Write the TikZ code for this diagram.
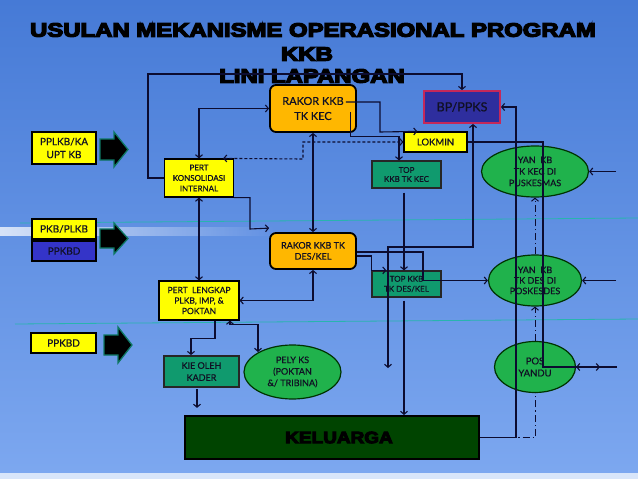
\documentclass[tikz,border=0pt]{standalone}
\usepackage{fontspec}
\usepackage{graphicx}
\setmainfont[FakeBold=0.6]{Lato}
\newfontfamily\titlefont[FakeBold=6]{Liberation Sans Bold}
\usetikzlibrary{arrows.meta,calc,shapes.geometric,fadings}
\definecolor{bgtop}{RGB}{70,122,214}
\definecolor{bgbot}{RGB}{125,168,240}
\definecolor{lc}{RGB}{12,12,48}
\definecolor{yel}{RGB}{255,255,0}
\definecolor{org}{RGB}{255,183,0}
\definecolor{tealb}{RGB}{16,154,110}
\definecolor{grn}{RGB}{32,178,76}
\definecolor{bpfill}{RGB}{46,46,158}
\definecolor{bpedge}{RGB}{196,40,90}
\definecolor{ppblue}{RGB}{52,52,200}
\definecolor{kelgreen}{RGB}{0,68,0}
\definecolor{txt}{RGB}{16,16,36}
\definecolor{arrowedge}{RGB}{14,120,100}
\definecolor{seam}{RGB}{40,180,175}
\tikzset{
  every node/.style={inner sep=0pt, align=center, text=txt},
  ybox/.style={draw=black, line width=1.2pt, fill=yel},
  obox/.style={draw=black, line width=1.8pt, fill=org, rounded corners=6pt},
  tbox/.style={draw=black!85, line width=1.2pt, fill=tealb},
  gell/.style={ellipse, draw=black!80!green, line width=1.2pt, fill=grn},
  conn/.style={draw=lc, line width=1.1pt},
  bigarrow/.style={fill=black, draw=arrowedge, line width=1.3pt, line join=miter},
  dd/.style={line width=1pt, dash pattern=on 7pt off 3pt on 1.2pt off 3pt},
  dsh/.style={dash pattern=on 3pt off 2pt},
  ttl/.style={text=black},
}
\begin{document}
\begin{tikzpicture}[x=1pt,y=-1pt,>={Straight Barb[length=3pt,width=7pt]}]
\useasboundingbox (0,0) rectangle (638,479);
% background
\shade[top color=bgtop, bottom color=bgbot] (0,0) rectangle (638,479);
\fill[white!70!bgbot] (0,473) rectangle (638,479);
\draw[seam, line width=0.8pt] (20,223) -- (638,218);
\draw[seam, line width=0.8pt] (15,324) -- (638,319);
\fill[white, opacity=0.75, path fading=east] (0,227) rectangle (275,236);

% title
\node[ttl] (ttl1) at (313,30) {\titlefont\fontsize{19.5}{20}\selectfont\scalebox{1.226}[1]{USULAN MEKANISME OPERASIONAL PROGRAM}};
\node[ttl] (ttl2) at (307,54) {\titlefont\fontsize{19.5}{20}\selectfont\scalebox{1.226}[1]{KKB}};
\node[ttl] (ttl3) at (312,76) {\titlefont\fontsize{19.5}{20}\selectfont\scalebox{1.226}[1]{LINI LAPANGAN}};

% left labels
\node[ybox, minimum width=64pt, minimum height=32pt, font=\fontsize{10}{13}\selectfont] (pplkb) at (64,148) {PPLKB/KA\\UPT KB};
\node[ybox, minimum width=64pt, minimum height=20pt, font=\fontsize{10}{12}\selectfont] (pkb) at (64,229) {PKB/PLKB};
\node[draw=black, line width=1.2pt, fill=ppblue, minimum width=64pt, minimum height=20pt, font=\fontsize{10}{12}\selectfont] (ppkbda) at (64,251) {PPKBD};
\node[ybox, minimum width=65pt, minimum height=20pt, font=\fontsize{10}{12}\selectfont] (ppkbdb) at (63.5,343) {PPKBD};

% big arrows
\filldraw[bigarrow] (100,139) -- (114,139) -- (114,132) -- (128,149.5) -- (114,167) -- (114,160) -- (100,160) -- cycle;
\filldraw[bigarrow] (100,229) -- (114,229) -- (114,223) -- (128,238.5) -- (114,254) -- (114,248) -- (100,248) -- cycle;
\filldraw[bigarrow] (104,335) -- (118,335) -- (118,327) -- (132,345) -- (118,363) -- (118,355) -- (104,355) -- cycle;

% nodes
\node[obox, minimum width=86pt, minimum height=47pt, font=\fontsize{11}{15}\selectfont] (rakorkec) at (313,108.5) {RAKOR KKB\\TK KEC};
\node[draw=bpedge, line width=1.8pt, fill=bpfill, minimum width=76pt, minimum height=32pt, font=\fontsize{12.5}{14}\selectfont] (bp) at (462,107) {BP/PPKS};
\node[ybox, minimum width=63pt, minimum height=20pt, font=\fontsize{9.5}{11}\selectfont] (lokmin) at (435.5,142) {LOKMIN};
\node[tbox, minimum width=69pt, minimum height=27pt, font=\fontsize{8}{9}\selectfont] (topkec) at (406.5,174.5) {TOP\\KKB TK KEC};
\node[gell, minimum width=107pt, minimum height=51pt, font=\fontsize{9}{11.5}\selectfont] (yankec) at (535,171.5) {YAN\ \ KB\\TK KEC DI\\PUSKESMAS};
\node[ybox, minimum width=69pt, minimum height=38pt, font=\fontsize{8}{10.5}\selectfont] (konsol) at (199,178) {PERT\\KONSOLIDASI\\INTERNAL};
\node[obox, minimum width=86pt, minimum height=36pt, font=\fontsize{9}{11}\selectfont] (rakordes) at (313,251) {RAKOR KKB TK\\DES/KEL};
\node[ybox, minimum width=80pt, minimum height=39pt, font=\fontsize{8.5}{10.5}\selectfont] (lengkap) at (199,300.5) {PERT\ \ LENGKAP\\PLKB, IMP, \&\\POKTAN};
\node[tbox, minimum width=69pt, minimum height=26pt, font=\fontsize{8}{10}\selectfont] (topdes) at (406.5,284) {TOP KKB\\TK DES/KEL};
\node[gell, minimum width=93pt, minimum height=51pt, font=\fontsize{9}{10.5}\selectfont] (yandes) at (535,280.5) {YAN\ \ KB\\TK DES DI\\POSKESDES};
\node[tbox, line width=1.8pt, minimum width=75pt, minimum height=31pt, font=\fontsize{9}{12}\selectfont] (kie) at (201.5,371.5) {KIE OLEH\\KADER};
\node[gell, minimum width=97pt, minimum height=54pt, font=\fontsize{9}{11.5}\selectfont] (pely) at (292.5,372) {PELY KS\\(POKTAN\\\&/ TRIBINA)};
\node[gell, minimum width=81pt, minimum height=51pt, font=\fontsize{9.5}{12}\selectfont] (posyandu) at (535,367) {POS\\YANDU};
\node[draw=black, line width=2pt, fill=kelgreen, minimum width=294pt, minimum height=43pt, text=black] (keluarga) at (332,437.5) {\hspace*{14pt}\titlefont\fontsize{16.5}{18}\selectfont\scalebox{1.15}[1]{KELUARGA}};

% coordinates
\coordinate (c1) at (148,74);
\coordinate (d1) at ($(konsol.north east)+(-11,0)$);
\coordinate (d2) at (303,159);
\coordinate (e1) at ($(rakorkec.east)+(-11,-6.5)$);
\coordinate (e2) at ($(lokmin.north west)+(14,0)$);
\coordinate (g1) at ($(rakorkec.east)+(-6,3.5)$);
\coordinate (g2) at ($(topkec.north)+(-7.5,0)$);
\coordinate (h1) at ($(rakordes.north west)+(0,-4)$);
\coordinate (f1) at (388,368);
\coordinate (n1) at ($(topdes.south)+(-2.5,3)$);
\coordinate (o1) at (600,367);
\coordinate (o2) at (617,367);
\coordinate (r1) at (616,171.5);
\coordinate (r2) at (616,280.5);
\coordinate (s1) at ($(lengkap.south)+(16,0)$);
\coordinate (s2) at ($(kie.north)+(-10.5,0)$);
\coordinate (t1) at ($(lengkap.south)+(31,0)$);
\coordinate (t2) at ($(pely.center)+(-34.5,-20)$);
\coordinate (u1) at ($(kie.south)+(-4.5,1)$);
\coordinate (u2) at ($(kie.south)+(-4.5,20)$);

% connectors
\draw[conn,->] (konsol.west) -| (c1) -| (bp.north);
\draw[conn,<->] (konsol.north) |- (rakorkec.west);
\draw[conn,dsh,<->] (d1) -- (d2) |- (lokmin.west);
\draw[conn,->] (e1) -| (380,132) -- (e2);
\draw[conn,->] (g1) |- ($(g2)+(0,-24)$) -- (g2);
\draw[conn,<->] (rakorkec.south) -- (rakordes.north);
\draw[conn,->] (konsol.south east) -| (250,229) -- (h1);
\draw[conn,<->] (konsol.south) -- (lengkap.north);
\draw[conn,<->] (lengkap.east) -| (rakordes.south);
\draw[conn,->] ($(rakordes.east)+(0,1)$) -| (423,280.5) -- (yandes.west);
\draw[conn,->] ($(rakordes.east)+(0,5)$) -| (topdes.north west) -- ($(topdes.north west)+(15,0)$);
\draw[conn,<->] ($(bp.south)+(11,0)$) |- (388,247) -- (f1);
\draw[conn,->] ($(topkec.south)+(-2.5,4)$) -- ($(topdes.north)+(-2.5,0)$);
\draw[conn,->] (n1) -- (n1 |- keluarga.north);
\draw[conn,->] (lokmin.east) -| (543,367) -- (o1);
\draw[conn,->] (o2) -- (posyandu.east);
\draw[conn,->] (keluarga.east) -| (516,107) -- (bp.east);
\draw[conn,dd] (keluarga.east) -| (posyandu.south);
\draw[conn,dd,->] (posyandu.north) -- (yandes.south);
\draw[conn,dd,->] (yandes.north) -- (yankec.south);
\draw[conn,->] (r1) -- (yankec.east);
\draw[conn,->] (r2) -- (yandes.east);
\draw[conn,->] (s1) |- ($(s2)+(0,-17)$) -- (s2);
\draw[conn,<->] (t1) -- ++(0,4) -| (t2);
\draw[conn,->] (u1) -- (u2);
\end{tikzpicture}
\end{document}
